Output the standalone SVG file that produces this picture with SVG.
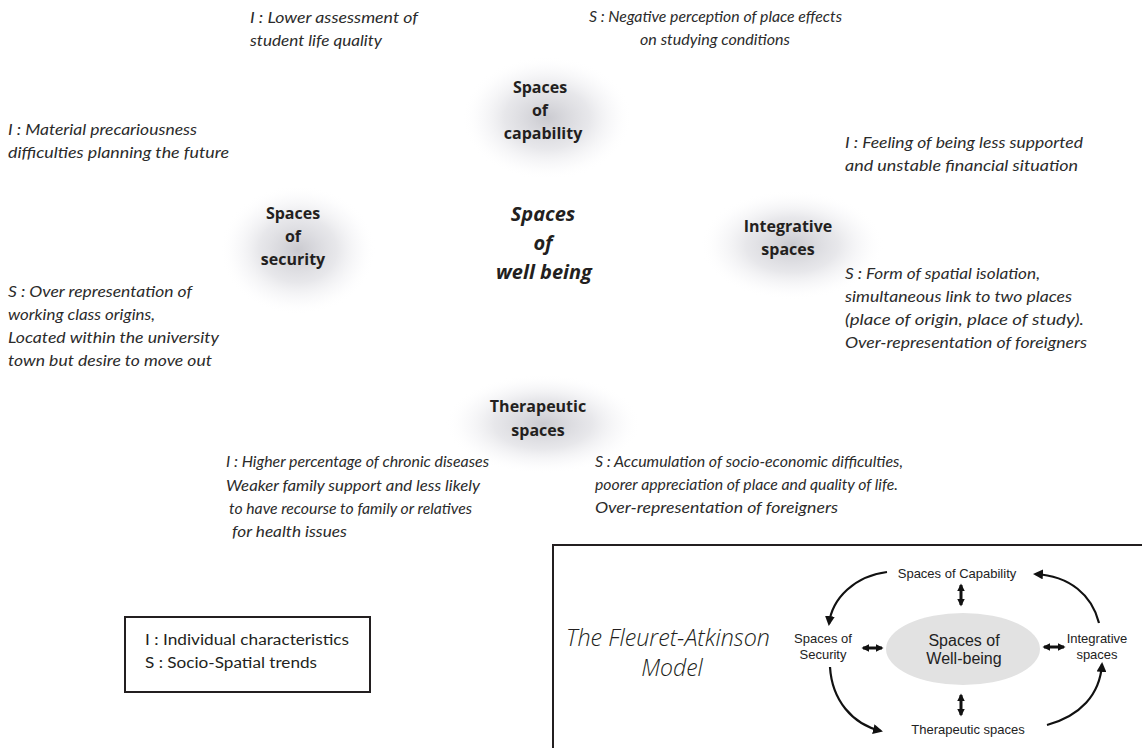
<svg xmlns="http://www.w3.org/2000/svg" width="1142" height="748" viewBox="0 0 1142 748">
<style>
.it{font-family:Lato,"Open Sans","Liberation Sans",sans-serif;font-style:italic;font-size:15.5px;fill:#2b2b2b}
.nd{font-family:"Open Sans","Liberation Sans",sans-serif;font-weight:bold;font-size:16px;fill:#231f20;text-anchor:middle}
.ctr{font-family:"Open Sans","Liberation Sans",sans-serif;font-weight:bold;font-style:italic;font-size:20px;fill:#231f20;text-anchor:middle}
.lg{font-family:Lato,"Open Sans","Liberation Sans",sans-serif;font-size:15.5px;fill:#231f20}
.ttl{font-family:"Open Sans","Liberation Sans",sans-serif;font-style:italic;font-weight:300;font-size:23px;fill:#231f20;text-anchor:middle}
.sm{font-family:"Liberation Sans",Arial,sans-serif;font-size:13px;fill:#222;text-anchor:middle}
.wb{font-family:"Liberation Sans",Arial,sans-serif;font-size:16px;fill:#222;text-anchor:middle}
.cv{fill:none;stroke:#111;stroke-width:2.2}
.dbl{fill:none;stroke:#111;stroke-width:3}
</style>
<defs>
<radialGradient id="glow" cx="0.5" cy="0.5" r="0.5">
<stop offset="0" stop-color="#bdbdc4" stop-opacity="0.8"/>
<stop offset="0.5" stop-color="#d4d4da" stop-opacity="0.55"/>
<stop offset="0.8" stop-color="#ececf0" stop-opacity="0.25"/>
<stop offset="1" stop-color="#ffffff" stop-opacity="0"/>
</radialGradient>
<marker id="ah" viewBox="0 0 10 10" refX="8" refY="5" markerWidth="4.5" markerHeight="4.5" orient="auto-start-reverse" markerUnits="strokeWidth">
<path d="M0,0 L10,5 L0,10 z" fill="#111"/>
</marker>
<marker id="ah2" viewBox="0 0 10 10" refX="8" refY="5" markerWidth="2.6" markerHeight="2.6" orient="auto-start-reverse" markerUnits="strokeWidth">
<path d="M0,0 L10,5 L0,10 z" fill="#111"/>
</marker>
</defs>
<rect width="1142" height="748" fill="#fff"/>

<g id="node-capability">
<ellipse cx="547" cy="118" rx="85" ry="62" fill="url(#glow)"/>
<text class="nd" x="540" y="93">Spaces</text>
<text class="nd" x="540" y="116">of</text>
<text class="nd" x="543" y="139">capability</text>
</g>
<g id="node-security">
<ellipse cx="298" cy="250" rx="78" ry="65" fill="url(#glow)"/>
<text class="nd" x="293" y="219">Spaces</text>
<text class="nd" x="293" y="242">of</text>
<text class="nd" x="293" y="265">security</text>
</g>
<g id="node-wellbeing">
<text class="ctr" x="543" y="221">Spaces</text>
<text class="ctr" x="543" y="250">of</text>
<text class="ctr" x="544" y="279">well being</text>
</g>
<g id="node-integrative">
<ellipse cx="792" cy="245" rx="92" ry="55" fill="url(#glow)"/>
<text class="nd" x="788" y="232">Integrative</text>
<text class="nd" x="788" y="255">spaces</text>
</g>
<g id="node-therapeutic">
<ellipse cx="543" cy="424" rx="98" ry="50" fill="url(#glow)"/>
<text class="nd" x="538" y="412">Therapeutic</text>
<text class="nd" x="538" y="436">spaces</text>
</g>

<g id="annotations">
<text class="it" x="250" y="23" textLength="168" lengthAdjust="spacingAndGlyphs">I : Lower assessment of</text>
<text class="it" x="250" y="46" textLength="132" lengthAdjust="spacingAndGlyphs">student life quality</text>
<text class="it" x="589" y="22" textLength="253" lengthAdjust="spacingAndGlyphs">S :  Negative perception of place effects</text>
<text class="it" x="640" y="45" textLength="150" lengthAdjust="spacingAndGlyphs">on studying conditions</text>
<text class="it" x="8" y="135" textLength="189" lengthAdjust="spacingAndGlyphs">I : Material precariousness</text>
<text class="it" x="8" y="158" textLength="221" lengthAdjust="spacingAndGlyphs">difficulties planning the future</text>
<text class="it" x="845" y="148" textLength="238" lengthAdjust="spacingAndGlyphs">I : Feeling of being less supported</text>
<text class="it" x="845" y="171" textLength="233" lengthAdjust="spacingAndGlyphs">and unstable financial situation</text>
<text class="it" x="8" y="297" textLength="184" lengthAdjust="spacingAndGlyphs">S : Over representation of</text>
<text class="it" x="8" y="320" textLength="147" lengthAdjust="spacingAndGlyphs">working class origins,</text>
<text class="it" x="8" y="343" textLength="211" lengthAdjust="spacingAndGlyphs">Located within the university</text>
<text class="it" x="8" y="366" textLength="204" lengthAdjust="spacingAndGlyphs">town but desire to move out</text>
<text class="it" x="845" y="279" textLength="195" lengthAdjust="spacingAndGlyphs">S : Form of spatial isolation,</text>
<text class="it" x="845" y="302" textLength="227" lengthAdjust="spacingAndGlyphs">simultaneous link to two places</text>
<text class="it" x="845" y="325" textLength="239" lengthAdjust="spacingAndGlyphs">(place of origin, place of study).</text>
<text class="it" x="845" y="348" textLength="242" lengthAdjust="spacingAndGlyphs">Over-representation of foreigners</text>
<text class="it" x="226" y="467" textLength="263" lengthAdjust="spacingAndGlyphs">I : Higher percentage of chronic diseases</text>
<text class="it" x="226" y="491" textLength="254" lengthAdjust="spacingAndGlyphs">Weaker family support and less likely</text>
<text class="it" x="229" y="514" textLength="243" lengthAdjust="spacingAndGlyphs">to have recourse to family or relatives</text>
<text class="it" x="232" y="537" textLength="115" lengthAdjust="spacingAndGlyphs">for health issues</text>
<text class="it" x="595" y="467" textLength="308" lengthAdjust="spacingAndGlyphs">S :  Accumulation of socio-economic difficulties,</text>
<text class="it" x="595" y="490" textLength="303" lengthAdjust="spacingAndGlyphs">poorer appreciation of place and quality of life.</text>
<text class="it" x="595" y="513" textLength="243" lengthAdjust="spacingAndGlyphs">Over-representation of foreigners</text>
</g>

<g id="legend">
<rect x="125" y="617" width="245" height="75" fill="none" stroke="#231f20" stroke-width="2"/>
<text class="lg" x="145" y="645" textLength="204" lengthAdjust="spacingAndGlyphs">I : Individual characteristics</text>
<text class="lg" x="145" y="668" textLength="172" lengthAdjust="spacingAndGlyphs">S : Socio-Spatial trends</text>
</g>

<g id="model">
<rect x="553" y="545" width="600" height="220" fill="none" stroke="#231f20" stroke-width="2"/>
<text class="ttl" x="668" y="646" textLength="204" lengthAdjust="spacingAndGlyphs">The Fleuret-Atkinson</text>
<text class="ttl" x="672" y="676">Model</text>
<g id="model-wellbeing">
<ellipse cx="963" cy="649" rx="77" ry="36" fill="#e2e2e2"/>
<text class="wb" x="964" y="646">Spaces of</text>
<text class="wb" x="964" y="664">Well-being</text>
</g>
<g id="model-capability"><text class="sm" x="957" y="578">Spaces of Capability</text></g>
<g id="model-security"><text class="sm" x="823" y="643">Spaces of</text><text class="sm" x="823" y="659">Security</text></g>
<g id="model-integrative"><text class="sm" x="1097" y="643">Integrative</text><text class="sm" x="1097" y="659">spaces</text></g>
<g id="model-therapeutic"><text class="sm" x="968" y="734">Therapeutic spaces</text></g>
<g id="model-connectors">
<path class="cv" d="M887 572 C855 576 832 598 829 624" marker-end="url(#ah)"/>
<path class="cv" d="M1099 623 C1092 595 1070 576 1035 574" marker-end="url(#ah)"/>
<path class="cv" d="M830 667 C832 700 852 724 881 731" marker-end="url(#ah)"/>
<path class="cv" d="M1047 725 C1080 716 1100 695 1102 664" marker-end="url(#ah)"/>
<line class="dbl" x1="961" y1="585" x2="961" y2="605" marker-start="url(#ah2)" marker-end="url(#ah2)"/>
<line class="dbl" x1="961" y1="695" x2="961" y2="715" marker-start="url(#ah2)" marker-end="url(#ah2)"/>
<line class="dbl" x1="863" y1="648" x2="882" y2="648" marker-start="url(#ah2)" marker-end="url(#ah2)"/>
<line class="dbl" x1="1044" y1="647" x2="1064" y2="647" marker-start="url(#ah2)" marker-end="url(#ah2)"/>
</g>
</g>
</svg>
